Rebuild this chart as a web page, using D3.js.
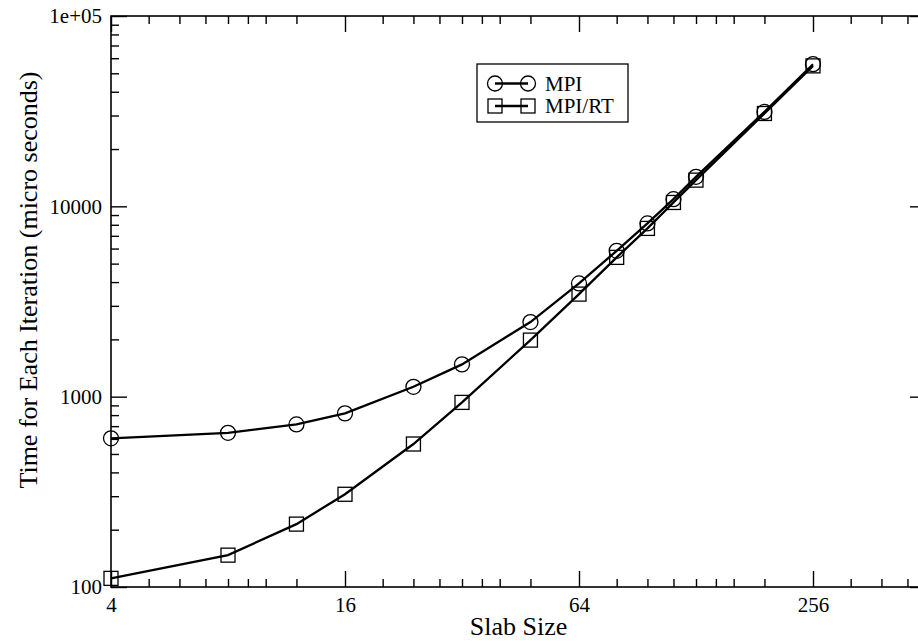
<!DOCTYPE html>
<html>
<head>
<meta charset="utf-8">
<script src="https://cdn.jsdelivr.net/npm/d3@7"></script>
<style>
  body { margin: 0; background: #fff; }
  svg { display: block; }
  svg text { font-family: "Liberation Serif", serif; }
</style>
</head>
<body>
<div id="chart"></div>
<script>
// values
const slabSizes = [4, 8, 12, 16, 24, 32, 48, 64, 80, 96, 112, 128, 192, 256];
const mpiTimes = [604, 646, 715, 817, 1127, 1478, 2465, 3936, 5837, 8131, 10909, 14291, 31342, 55800];
const mpiRtTimes = [111, 147, 214, 307, 564, 933, 1982, 3458, 5393, 7656, 10478, 13730, 30750, 54700];

const xMajorTicks = [4, 16, 64, 256];
const xMinorTicks = [5, 6, 7, 8, 9, 10, 12, 20, 24, 28, 32, 36, 40, 48,
                     80, 96, 112, 128, 144, 160, 192, 320, 384, 448];
const yMajorTicks = [100, 1000, 10000, 100000];
const yTickLabels = ["100", "1000", "10000", "1e+05"];
const seriesNames = ["MPI", "MPI/RT"];

const width = 918, height = 643;
const margin = {top: 16, right: -8, bottom: 56, left: 111};
const serif = "Liberation Serif";

const x = d3.scaleLog().base(2).domain([4, 500])
    .range([margin.left, width - margin.right]);
const y = d3.scaleLog().domain([100, 100000])
    .range([height - margin.bottom, margin.top]);

const yMinorTicks = [];
[100, 1000, 10000].forEach(p => { for (let k = 2; k <= 9; k++) yMinorTicks.push(p * k); });

const svg = d3.select("#chart").append("svg")
    .attr("width", width)
    .attr("height", height)
    .attr("viewBox", [0, 0, width, height])
    .attr("font-family", serif);

const x0 = margin.left, x1 = width - margin.right;
const y0 = height - margin.bottom, y1 = margin.top;

function tidy(g) {
    g.attr("font-family", serif).attr("font-size", 21);
    g.select(".domain").remove();
    g.selectAll(".tick line").attr("stroke", "#000").attr("stroke-width", 1.4);
    g.selectAll(".tick text").attr("fill", "#000").attr("font-family", serif);
}

// bottom axis
svg.append("g")
    .attr("transform", `translate(0,${y0})`)
    .call(d3.axisBottom(x).tickValues(xMinorTicks).tickSize(-8).tickFormat(""))
    .call(tidy);
svg.append("g")
    .attr("transform", `translate(0,${y0})`)
    .call(d3.axisBottom(x).tickValues(xMajorTicks).tickSize(-16).tickPadding(10).tickFormat(d3.format("d")))
    .call(tidy);

// top axis
svg.append("g")
    .attr("transform", `translate(0,${y1})`)
    .call(d3.axisTop(x).tickValues(xMinorTicks).tickSize(-8).tickFormat(""))
    .call(tidy);
svg.append("g")
    .attr("transform", `translate(0,${y1})`)
    .call(d3.axisTop(x).tickValues(xMajorTicks).tickSize(-16).tickFormat(""))
    .call(tidy);

// left axis
svg.append("g")
    .attr("transform", `translate(${x0},0)`)
    .call(d3.axisLeft(y).tickValues(yMinorTicks).tickSize(-8).tickFormat(""))
    .call(tidy);
svg.append("g")
    .attr("transform", `translate(${x0},0)`)
    .call(d3.axisLeft(y).tickValues(yMajorTicks).tickSize(-16).tickPadding(9)
        .tickFormat((d, i) => yTickLabels[i]))
    .call(tidy);

// right axis
svg.append("g")
    .attr("transform", `translate(${x1},0)`)
    .call(d3.axisRight(y).tickValues(yMinorTicks).tickSize(-8).tickFormat(""))
    .call(tidy);
svg.append("g")
    .attr("transform", `translate(${x1},0)`)
    .call(d3.axisRight(y).tickValues(yMajorTicks).tickSize(-16).tickFormat(""))
    .call(tidy);

// frame
svg.append("rect")
    .attr("x", x0).attr("y", y1)
    .attr("width", x1 - x0).attr("height", y0 - y1)
    .attr("fill", "none").attr("stroke", "#000").attr("stroke-width", 1.6);

// axis titles
svg.append("text")
    .attr("x", (x0 + x1) / 2)
    .attr("y", 635)
    .attr("text-anchor", "middle")
    .attr("font-family", serif)
    .attr("font-size", 26)
    .text("Slab Size");

svg.append("text")
    .attr("transform", `translate(37,280) rotate(-90)`)
    .attr("text-anchor", "middle")
    .attr("font-family", serif)
    .attr("font-size", 26)
    .text("Time for Each Iteration (micro seconds)");

// series
const line = d3.line()
    .x((d, i) => x(slabSizes[i]))
    .y(d => y(d));

svg.append("path")
    .datum(mpiRtTimes)
    .attr("fill", "none").attr("stroke", "#000").attr("stroke-width", 2.3)
    .attr("d", line);
svg.append("path")
    .datum(mpiTimes)
    .attr("fill", "none").attr("stroke", "#000").attr("stroke-width", 2.3)
    .attr("d", line);

const sq = 14, r = 7.5;

svg.append("g")
    .selectAll("rect")
    .data(mpiRtTimes)
    .join("rect")
    .attr("x", (d, i) => x(slabSizes[i]) - sq / 2)
    .attr("y", d => y(d) - sq / 2)
    .attr("width", sq).attr("height", sq)
    .attr("fill", "none").attr("stroke", "#000").attr("stroke-width", 1.3);

svg.append("g")
    .selectAll("circle")
    .data(mpiTimes)
    .join("circle")
    .attr("cx", (d, i) => x(slabSizes[i]))
    .attr("cy", d => y(d))
    .attr("r", r)
    .attr("fill", "none").attr("stroke", "#000").attr("stroke-width", 1.3);

// legend
const legend = svg.append("g").attr("transform", "translate(477,64)");
legend.append("rect")
    .attr("width", 151).attr("height", 58)
    .attr("fill", "#fff").attr("stroke", "#000").attr("stroke-width", 1.3);

seriesNames.forEach((name, i) => {
    const cy = 19.5 + i * 22.5;
    const row = legend.append("g");
    row.append("line")
        .attr("x1", 18).attr("x2", 51).attr("y1", cy).attr("y2", cy)
        .attr("stroke", "#000").attr("stroke-width", 2.3);
    [18, 51].forEach(cx => {
        if (i === 0) {
            row.append("circle").attr("cx", cx).attr("cy", cy).attr("r", r)
                .attr("fill", "none").attr("stroke", "#000").attr("stroke-width", 1.3);
        } else {
            row.append("rect").attr("x", cx - sq / 2).attr("y", cy - sq / 2)
                .attr("width", sq).attr("height", sq)
                .attr("fill", "none").attr("stroke", "#000").attr("stroke-width", 1.3);
        }
    });
    row.append("text")
        .attr("x", 68).attr("y", cy + 7)
        .attr("font-family", serif)
        .attr("font-size", 21)
        .text(name);
});
</script>
</body>
</html>
